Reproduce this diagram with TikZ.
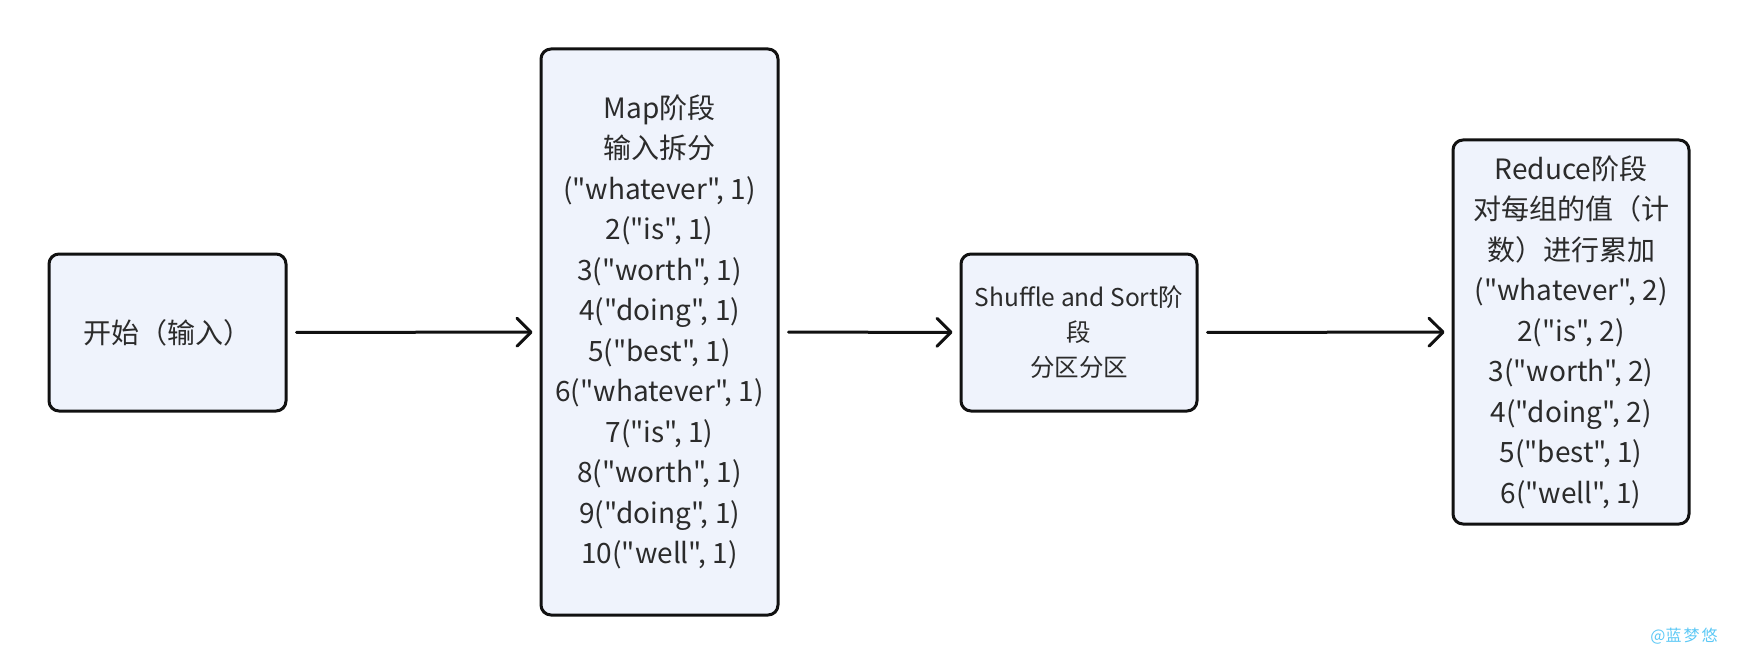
\documentclass[tikz,border=0pt]{standalone}
\usepackage{fontspec}
\setmainfont{Noto Sans CJK SC}[Ligatures=TeXOff]
\usepackage{xcolor}
\usepackage{tikz}
\usetikzlibrary{arrows.meta}
\definecolor{ink}{HTML}{2B2B2B}
\definecolor{edge}{HTML}{111111}
\definecolor{paper}{HTML}{EFF3FC}
\definecolor{mark}{HTML}{5CC8F5}
\tikzset{
  stage/.style={draw=edge, fill=paper, line width=3pt, rounded corners=10pt,
    text=ink, align=center, inner sep=0pt},
  flow/.style={draw=edge, line width=3pt, line cap=round,
    -{Straight Barb[length=14pt,width=28pt,line join=round,line cap=round]},
    shorten <=9pt, shorten >=7pt},
  big/.style={font=\fontsize{28}{40.5}\selectfont},
  small/.style={font=\fontsize{24.5}{35}\selectfont},
  labw/.style={text=mark, font=\fontsize{16}{18}\selectfont}
}

\begin{document}
\begin{tikzpicture}[x=1pt,y=-1pt]
  \useasboundingbox (0,0) rectangle (1740,666);

  \coordinate (S) at (167.5,332.5);
  \coordinate (M) at (659.5,332);
  \coordinate (F) at (1079,332.5);
  \coordinate (R) at (1571,332);

  \node[stage,big,minimum width=237pt,minimum height=157pt] (start) at (S)
    {开始（输入）};
  \node[stage,big,minimum width=237pt,minimum height=566pt] (map) at (M)
    {Map阶段\\输入拆分\\("whatever", 1)\\2("is", 1)\\3("worth", 1)\\4("doing", 1)\\
     5("best", 1)\\6("whatever", 1)\\7("is", 1)\\8("worth", 1)\\9("doing", 1)\\10("well", 1)};
  \node[stage,small,minimum width=236pt,minimum height=157pt] (shuffle) at (F)
    {Shuffle and Sort阶\\段\\分区分区};
  \node[stage,big,minimum width=236pt,minimum height=384pt] (reduce) at (R)
    {Reduce阶段\\对每组的值（计\\数）进行累加\\("whatever", 2)\\2("is", 2)\\
     3("worth", 2)\\4("doing", 2)\\5("best", 1)\\6("well", 1)};

  \draw[flow] (start) -- (map);
  \draw[flow] (map) -- (shuffle);
  \draw[flow] (shuffle) -- (reduce);

  % watermark
  \node[labw] (wm) at (1684,636) {@蓝\hspace{2pt}梦\hspace{2pt}悠};
\end{tikzpicture}
\end{document}
